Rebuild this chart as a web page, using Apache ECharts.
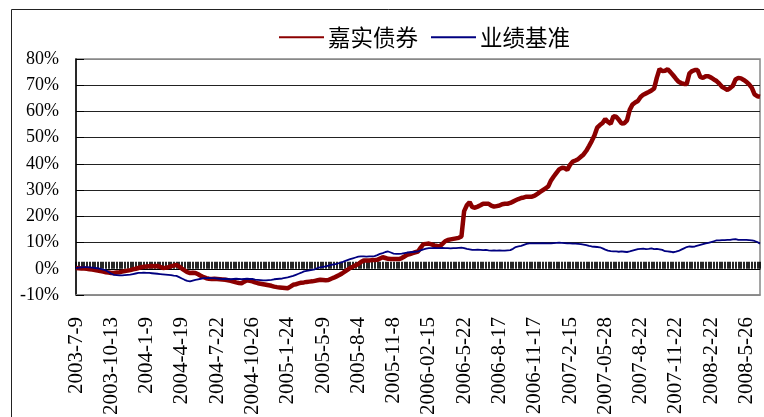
<!DOCTYPE html>
<html>
<head>
<meta charset="utf-8">
<script src="https://cdn.jsdelivr.net/npm/echarts@6/dist/echarts.min.js"></script>
<style>
html,body{margin:0;padding:0;background:#fff;}
#c{width:764px;height:417px;}
</style>
</head>
<body>
<div id="c"></div>
<script>
const tickLabels = ['2003-7-9','2003-10-13','2004-1-9','2004-4-19','2004-7-22','2004-10-26','2005-1-24','2005-5-9','2005-8-4','2005-11-8','2006-02-15','2006-5-22','2006-8-17','2006-11-17','2007-2-15','2007-05-28','2007-8-22','2007-11-22','2008-2-22','2008-5-26'];
const seriesNames = ['嘉实债券','业绩基准'];
const fund = [0.3,0.2,0.1,0.1,0.0,-0.2,-0.3,-0.5,-0.7,-0.9,
-1.1,-1.3,-1.4,-1.6,-1.6,-1.4,-1.3,-1.1,-0.9,-0.7,
-0.5,-0.2,0.0,0.3,0.6,0.8,0.9,1.0,1.1,1.0,
1.1,0.7,0.3,0.4,0.6,0.9,1.2,1.5,0.9,0.1,
-0.6,-1.3,-1.6,-1.5,-1.6,-2.1,-2.7,-3.2,-3.6,-3.8,
-3.9,-3.8,-3.9,-4.0,-4.1,-4.2,-4.4,-4.6,-4.9,-5.2,
-5.4,-5.5,-4.9,-4.4,-4.6,-4.8,-5.2,-5.5,-5.7,-5.9,
-6.1,-6.3,-6.5,-6.8,-7.0,-7.1,-7.2,-7.3,-7.4,-6.8,
-6.1,-5.9,-5.6,-5.3,-5.2,-5.0,-4.9,-4.8,-4.6,-4.4,
-4.2,-4.3,-4.4,-4.3,-3.8,-3.4,-2.9,-2.4,-1.8,-1.1,
-0.4,0.3,0.8,1.3,1.8,2.6,3.2,3.2,3.2,3.3,
3.3,3.4,3.9,4.4,4.1,3.8,3.7,3.7,3.7,3.7,
4.1,4.7,5.3,5.6,6.0,6.3,6.6,8.1,9.4,9.5,
9.6,9.3,8.9,8.7,8.5,9.5,10.5,11.0,11.2,11.4,
11.6,11.8,12.3,22.0,24.2,25.4,23.5,23.3,23.7,24.2,
24.8,24.8,24.8,24.1,23.7,23.9,24.1,24.6,24.8,24.8,
25.1,25.6,26.1,26.6,27.0,27.2,27.5,27.5,27.5,27.9,
28.6,29.3,30.0,30.7,31.4,33.7,35.2,36.6,37.9,38.5,
38.4,37.7,39.6,40.9,41.3,41.8,42.7,43.6,45.0,46.8,
48.7,50.8,53.8,54.8,55.6,57.1,56.0,55.3,58.2,58.0,
56.8,55.4,55.5,56.6,60.6,62.6,63.4,64.0,65.5,66.4,
66.9,67.4,68.0,68.8,72.9,76.2,75.4,75.5,76.1,75.0,
73.8,72.5,71.3,70.8,70.5,70.5,74.5,75.4,75.8,75.8,
73.2,72.8,73.4,73.4,72.9,72.2,71.6,70.6,69.4,68.8,
68.2,68.9,69.8,72.2,72.8,72.6,72.0,71.3,70.3,69.0,
66.5,65.8,65.6];
const benchmark = [0.3,0.4,0.5,0.6,0.6,0.5,0.4,0.3,0.2,0.0,
-0.3,-0.6,-1.2,-1.9,-2.3,-2.4,-2.5,-2.5,-2.4,-2.3,
-2.2,-2.0,-1.8,-1.6,-1.6,-1.5,-1.6,-1.6,-1.7,-1.8,
-1.9,-2.0,-2.1,-2.2,-2.3,-2.4,-2.6,-2.7,-3.2,-3.7,
-4.2,-4.6,-4.8,-4.5,-4.2,-4.0,-3.8,-3.6,-3.6,-3.5,
-3.6,-3.6,-3.7,-3.8,-3.9,-3.8,-3.9,-4.0,-3.9,-3.8,
-3.9,-4.0,-3.9,-3.8,-3.9,-3.9,-4.1,-4.2,-4.3,-4.4,
-4.4,-4.3,-4.2,-4.0,-3.9,-3.8,-3.7,-3.5,-3.3,-3.0,
-2.7,-2.3,-1.9,-1.5,-1.0,-0.8,-0.6,-0.4,-0.2,0.3,
0.5,0.7,0.9,1.2,1.5,1.7,1.9,2.2,2.5,2.9,
3.3,3.7,4.0,4.3,4.6,4.7,4.7,4.6,4.7,4.7,
4.8,5.2,5.7,6.0,6.4,6.6,6.2,5.8,5.7,5.7,
5.8,6.0,6.2,6.3,6.4,6.5,6.6,7.0,7.4,7.7,
7.9,7.9,8.0,7.9,7.9,8.0,7.9,7.9,7.8,7.9,
7.9,8.0,8.1,7.9,7.6,7.4,7.2,7.2,7.3,7.2,
7.1,7.2,7.0,6.9,7.0,6.9,7.0,6.9,6.9,7.0,
7.1,7.6,8.3,8.5,8.7,9.1,9.5,9.7,9.7,9.7,
9.7,9.7,9.8,9.7,9.7,9.7,9.8,9.9,10.0,9.9,
9.8,9.7,9.7,9.6,9.6,9.5,9.4,9.2,9.0,8.7,
8.5,8.4,8.3,8.2,7.8,7.3,6.9,6.7,6.6,6.6,
6.5,6.6,6.5,6.4,6.6,6.9,7.2,7.5,7.6,7.7,
7.5,7.6,7.8,7.5,7.6,7.4,7.2,6.7,6.6,6.5,
6.3,6.5,6.8,7.3,7.8,8.3,8.5,8.4,8.5,8.8,
9.1,9.4,9.7,9.9,10.2,10.5,10.8,10.8,10.9,10.9,
11.0,11.0,11.2,11.3,11.0,11.0,11.0,11.0,10.9,10.8,
10.6,10.2,9.6];
const labelStep = 13;
const categories = fund.map((_, i) => (i % labelStep === 0 && tickLabels[i / labelStep]) ? tickLabels[i / labelStep] : 'w' + i);

const chart = echarts.init(document.getElementById('c'));
const serif = 'Liberation Serif, Times New Roman, serif';
chart.setOption({
  animation: false,
  backgroundColor: '#fff',
  graphic: [{
    type: 'rect', silent: true, z: -10,
    shape: {x: 11.5, y: 9.5, width: 1000, height: 1000},
    style: {fill: 'none', stroke: '#222', lineWidth: 1}
  }],
  legend: {
    data: seriesNames,
    left: 273, top: 21,
    itemWidth: 45, itemHeight: 14, itemGap: 12,
    itemStyle: {color: 'rgba(0,0,0,0)', borderWidth: 0, opacity: 0},
    textStyle: {fontFamily: 'Noto Sans CJK SC', fontSize: 22.5, color: '#000', padding: [0, 0, 0, -1]}
  },
  grid: {left: 76, right: 4, top: 59, bottom: 122, show: true, borderColor: '#888', borderWidth: 1.5, containLabel: false, outerBoundsMode: 'none'},
  xAxis: [{
    type: 'category', data: categories, boundaryGap: false, position: 'bottom',
    axisLine: {onZero: false, lineStyle: {color: '#888', width: 1.5}},
    axisTick: {show: false},
    axisLabel: {interval: labelStep - 1, rotate: 90, margin: 22, fontFamily: serif, fontSize: 21, color: '#000'},
    splitLine: {show: false}
  }, {
    type: 'category', data: categories, boundaryGap: false, position: 'bottom',
    axisLine: {onZero: true, show: true, lineStyle: {color: '#000', width: 1}},
    axisTick: {show: true, interval: 0, inside: true, length: 7, lineStyle: {color: '#000', width: 1.7}},
    axisLabel: {show: false},
    splitLine: {show: false}
  }],
  yAxis: {
    type: 'value', min: -10, max: 80, interval: 10,
    axisLine: {show: true, lineStyle: {color: '#000', width: 1.5}},
    axisTick: {show: true, inside: true, length: 8, lineStyle: {color: '#000'}},
    axisLabel: {formatter: '{value}%', fontFamily: serif, fontSize: 18, color: '#000', margin: 17},
    splitLine: {show: true, lineStyle: {color: ['#888','#000','#222','#222','#222','#222','#222','#222','#222','#888'], width: 1}}
  },
  series: [{
    name: seriesNames[0], type: 'line', xAxisIndex: 0, data: fund,
    symbol: 'none', lineStyle: {color: '#8b0000', width: 4.5}, itemStyle: {color: '#8b0000'}
  }, {
    name: seriesNames[1], type: 'line', xAxisIndex: 0, data: benchmark,
    symbol: 'none', lineStyle: {color: '#000080', width: 1.8}, itemStyle: {color: '#000080'}
  }]
});
</script>
</body>
</html>
